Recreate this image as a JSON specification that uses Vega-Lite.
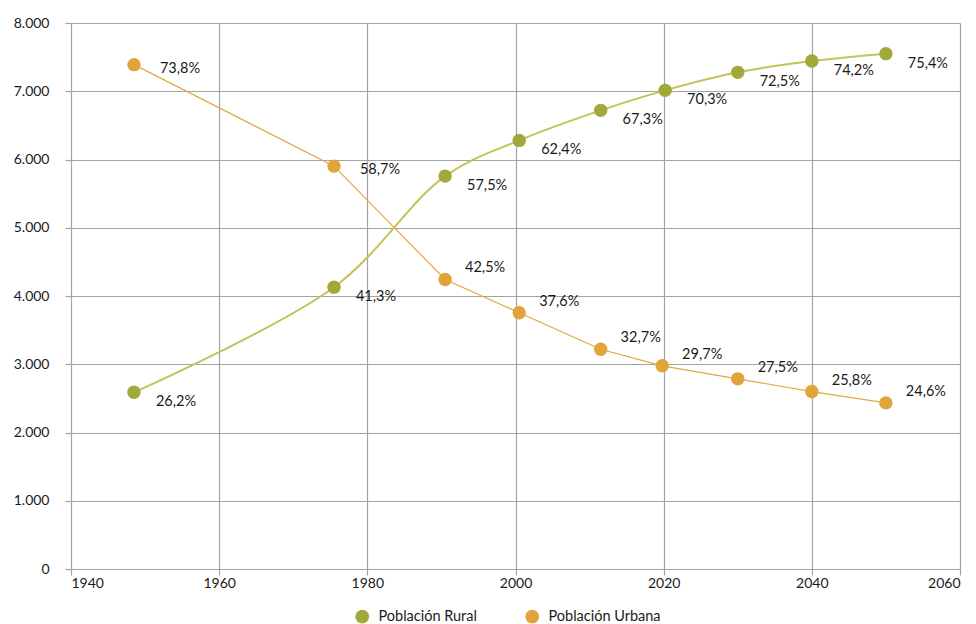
{
  "$schema": "https://vega.github.io/schema/vega-lite/v6.json",
  "width": 889,
  "height": 546,
  "autosize": {"type": "none"},
  "padding": {"left": 71, "top": 23, "right": 16, "bottom": 55},
  "config": {
    "locale": {
      "number": {"decimal": ",", "thousands": ".", "grouping": [3], "currency": ["", " €"]}
    },
    "font": "Lato",
    "view": {"stroke": null},
    "axis": {
      "domain": false,
      "grid": true,
      "gridColor": "#a3a3a3",
      "gridWidth": 1.2,
      "tickColor": "#a3a3a3",
      "tickWidth": 1.2,
      "tickSize": 6,
      "labelFont": "Lato",
      "labelFontSize": 14,
      "labelColor": "#1a1a1a",
      "title": null
    },
    "legend": {
      "orient": "none",
      "legendX": 284,
      "legendY": 586,
      "direction": "horizontal",
      "title": null,
      "symbolType": "circle",
      "symbolSize": 190,
      "symbolStrokeWidth": 0,
      "labelFont": "Lato",
      "labelFontSize": 14.5,
      "labelColor": "#1a1a1a",
      "columnPadding": 48,
      "labelOffset": 9
    }
  },
  "data": {
    "values": [
      {"year": 1948.5, "serie": "Población Rural", "valor": 2589, "pct": "26,2%"},
      {"year": 1975.5, "serie": "Población Rural", "valor": 4129, "pct": "41,3%"},
      {"year": 1990.5, "serie": "Población Rural", "valor": 5757, "pct": "57,5%"},
      {"year": 2000.5, "serie": "Población Rural", "valor": 6280, "pct": "62,4%"},
      {"year": 2011.5, "serie": "Población Rural", "valor": 6720, "pct": "67,3%"},
      {"year": 2020.2, "serie": "Población Rural", "valor": 7013, "pct": "70,3%"},
      {"year": 2030, "serie": "Población Rural", "valor": 7277, "pct": "72,5%"},
      {"year": 2040, "serie": "Población Rural", "valor": 7443, "pct": "74,2%"},
      {"year": 2050, "serie": "Población Rural", "valor": 7551, "pct": "75,4%"},
      {"year": 1948.5, "serie": "Población Urbana", "valor": 7390, "pct": "73,8%"},
      {"year": 1975.5, "serie": "Población Urbana", "valor": 5903, "pct": "58,7%"},
      {"year": 1990.5, "serie": "Población Urbana", "valor": 4242, "pct": "42,5%"},
      {"year": 2000.5, "serie": "Población Urbana", "valor": 3754, "pct": "37,6%"},
      {"year": 2011.5, "serie": "Población Urbana", "valor": 3220, "pct": "32,7%"},
      {"year": 2019.8, "serie": "Población Urbana", "valor": 2977, "pct": "29,7%"},
      {"year": 2030, "serie": "Población Urbana", "valor": 2786, "pct": "27,5%"},
      {"year": 2040, "serie": "Población Urbana", "valor": 2600, "pct": "25,8%"},
      {"year": 2050, "serie": "Población Urbana", "valor": 2434, "pct": "24,6%"}
    ]
  },
  "encoding": {
    "x": {
      "field": "year",
      "type": "quantitative",
      "scale": {"domain": [1940, 2060], "nice": false, "zero": false},
      "axis": {"values": [1940, 1960, 1980, 2000, 2020, 2040, 2060], "format": "d", "labelPadding": 1}
    },
    "y": {
      "field": "valor",
      "type": "quantitative",
      "scale": {"domain": [0, 8000], "nice": false},
      "axis": {"values": [0, 1000, 2000, 3000, 4000, 5000, 6000, 7000, 8000], "format": ",d", "labelPadding": 16}
    }
  },
  "layer": [
    {
      "transform": [{"filter": "datum.serie === 'Población Rural'"}],
      "mark": {"type": "line", "interpolate": "catmull-rom", "color": "#c3c35a", "strokeWidth": 2}
    },
    {
      "transform": [{"filter": "datum.serie === 'Población Urbana'"}],
      "mark": {"type": "line", "color": "#e4a83e", "strokeWidth": 1.2}
    },
    {
      "mark": {"type": "circle", "size": 180, "opacity": 1},
      "encoding": {
        "color": {
          "field": "serie",
          "type": "nominal",
          "scale": {"domain": ["Población Rural", "Población Urbana"], "range": ["#a2a93a", "#e0a43a"]}
        }
      }
    },
    {
      "transform": [{"filter": "datum.serie === 'Población Rural'"}],
      "mark": {"type": "text", "align": "center", "baseline": "middle", "dx": 42, "dy": 10, "fontSize": 14.5, "font": "Lato", "color": "#1a1a1a"},
      "encoding": {"text": {"field": "pct"}}
    },
    {
      "transform": [{"filter": "datum.serie === 'Población Urbana' && datum.year < 1980"}],
      "mark": {"type": "text", "align": "center", "baseline": "middle", "dx": 46, "dy": 4, "fontSize": 14.5, "font": "Lato", "color": "#1a1a1a"},
      "encoding": {"text": {"field": "pct"}}
    },
    {
      "transform": [{"filter": "datum.serie === 'Población Urbana' && datum.year > 1980"}],
      "mark": {"type": "text", "align": "center", "baseline": "middle", "dx": 40, "dy": -11, "fontSize": 14.5, "font": "Lato", "color": "#1a1a1a"},
      "encoding": {"text": {"field": "pct"}}
    }
  ]
}
